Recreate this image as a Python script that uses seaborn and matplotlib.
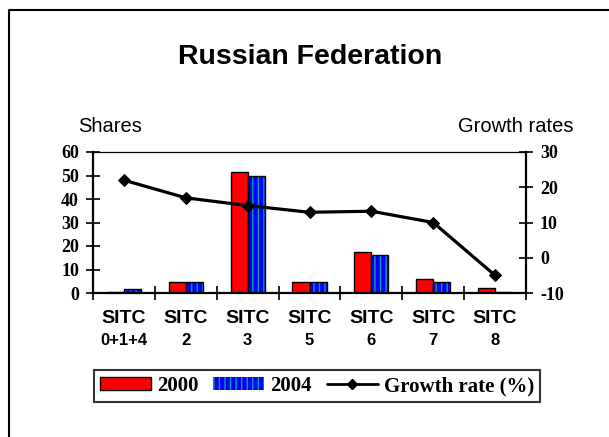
import numpy as np
import pandas as pd
import matplotlib
matplotlib.use("Agg")
import matplotlib.pyplot as plt
import matplotlib.transforms as mtransforms
from matplotlib.patches import Patch, Rectangle
from matplotlib.lines import Line2D
import seaborn as sns

# ---- data ----
categories = ["SITC 0+1+4", "SITC 2", "SITC 3", "SITC 5", "SITC 6", "SITC 7", "SITC 8"]
cat_top = ["SITC"] * 7
cat_bottom = ["0+1+4", "2", "3", "5", "6", "7", "8"]
shares_2000 = [0.5, 4.5, 51.5, 4.5, 17.5, 6.0, 2.0]
shares_2004 = [1.5, 4.5, 50.0, 4.5, 16.2, 4.5, 0.5]
growth = [22.0, 17.0, 14.8, 12.9, 13.2, 10.0, -5.0]
years = ["2000", "2004"]
left_ticks = [0, 10, 20, 30, 40, 50, 60]
right_ticks = [-10, 0, 10, 20, 30]

sns.set_style("white", rc={"text.color": "black", "xtick.color": "black",
                           "ytick.color": "black", "axes.labelcolor": "black"})
plt.rcParams["font.family"] = ["Liberation Sans", "DejaVu Sans"]
plt.rcParams["hatch.linewidth"] = 1.0

df = pd.DataFrame({
    "category": categories * 2,
    "year": [years[0]] * len(categories) + [years[1]] * len(categories),
    "share": shares_2000 + shares_2004,
})

W, H = 609, 437
fig = plt.figure(figsize=(W / 100, H / 100), dpi=100)
ax = fig.add_axes([93 / W, 1 - 293 / H, (526 - 93) / W, (293 - 152) / H])

RED = "#ff0000"
BLUE = "#0000ff"
HATCH = "#00a0a0"

sns.barplot(data=df, x="category", y="share", hue="year", order=categories,
            hue_order=years, palette={years[0]: RED, years[1]: BLUE},
            saturation=1, width=0.55, gap=0, edgecolor="black", linewidth=1.0,
            legend=False, ax=ax, zorder=2)

# style the 2004 bars with vertical stripes
n = len(categories)
bars = [p for p in ax.patches if isinstance(p, Rectangle)]
for p in bars[n:2 * n]:
    p.set_hatch("|||")
    p.set_edgecolor(HATCH)
    p.set_linewidth(0)
    outline = Rectangle(p.get_xy(), p.get_width(), p.get_height(), fill=False,
                        edgecolor="black", linewidth=1.0, zorder=3)
    ax.add_patch(outline)

ax.set_xlim(-0.5, n - 0.5)
ax.set_ylim(left_ticks[0], left_ticks[-1])
ax.set_xlabel("")
ax.set_ylabel("")

serif_bold = dict(family=["Liberation Serif", "DejaVu Serif"], weight="bold", size=13)

ax.set_yticks(left_ticks)
ax.set_yticklabels([str(t) for t in left_ticks], fontdict=serif_bold)
ax.tick_params(axis="y", direction="inout", length=10, width=1.2, pad=5, left=True, colors="black")

ax.set_xticks(range(n))
ax.set_xticklabels(cat_top, fontdict=dict(weight="bold", size=14))
ax.set_xticks(np.arange(n + 1) - 0.5, minor=True)
ax.tick_params(axis="x", which="major", length=0, pad=12.5)
ax.tick_params(axis="x", which="minor", direction="inout", length=10, width=1.2, bottom=True)

trans = mtransforms.blended_transform_factory(ax.transData, fig.transFigure)
for i, lab in enumerate(cat_bottom):
    ax.text(i, 1 - 345 / H, lab, transform=trans, ha="center", va="baseline",
            fontdict=dict(weight="bold", size=12))

for side, lw in [("left", 1.6), ("right", 1.6), ("bottom", 1.6), ("top", 0.9)]:
    ax.spines[side].set_visible(True)
    ax.spines[side].set_color("black")
    ax.spines[side].set_linewidth(lw)

ax2 = ax.twinx()
sns.lineplot(x=np.arange(n), y=growth, ax=ax2, color="black", linewidth=2.3,
             marker="D", markersize=6, markeredgecolor="black", zorder=4)
ax2.set_ylim(right_ticks[0], right_ticks[-1])
ax2.set_yticks(right_ticks)
ax2.set_yticklabels([str(t) for t in right_ticks], fontdict=serif_bold)
ax2.tick_params(axis="y", direction="inout", length=10, width=1.2, pad=5, right=True, colors="black")
ax2.set_ylabel("")
for side in ["left", "right", "bottom", "top"]:
    ax2.spines[side].set_visible(False)

# titles / axis captions
fig.text(310 / W, 1 - 57 / H, "Russian Federation", ha="center", va="center",
         fontsize=20.5, weight="bold", color="black")
fig.text(78 / W, 1 - 132 / H, "Shares", ha="left", va="baseline", fontsize=14.5, color="black")
fig.text(573 / W, 1 - 132 / H, "Growth rates", ha="right", va="baseline", fontsize=14.5, color="black")

# legend
handles = [
    Patch(facecolor=RED, edgecolor="black", linewidth=1.0),
    Patch(facecolor=BLUE, edgecolor=HATCH, hatch="|||", linewidth=0),
    Line2D([], [], color="black", linewidth=2.0, marker="D", markersize=5),
]
leg = fig.legend(handles, years + ["Growth rate (%)"], loc="center",
                 bbox_to_anchor=(317 / W, 1 - 386 / H), ncol=3, frameon=True,
                 fancybox=False, edgecolor="black", handlelength=2.45, handleheight=0.55,
                 handletextpad=0.3, columnspacing=0.7, borderpad=0.3,
                 prop=dict(family=["Liberation Serif", "DejaVu Serif"], weight="bold", size=15))
leg.get_frame().set_linewidth(1.5)
for t in leg.get_texts():
    t.set_color("black")

# frame lines on the left and top of the image
fig.add_artist(Line2D([9 / W, 9 / W, 1], [0, 1 - 10 / H, 1 - 10 / H],
                      transform=fig.transFigure, color="black", linewidth=1.5))

fig.savefig("out.png", dpi=100, facecolor="white")
